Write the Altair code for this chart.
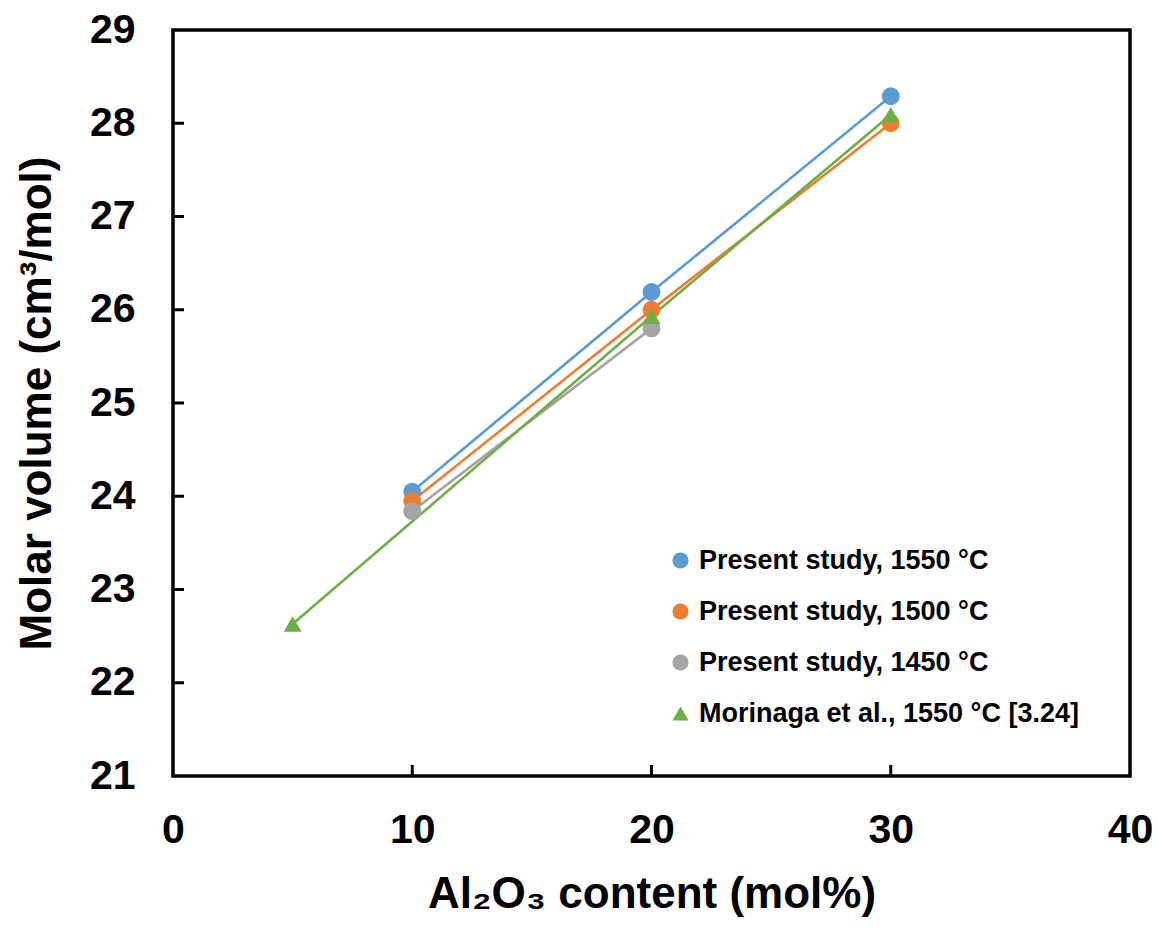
import altair as alt
import pandas as pd

series_names = [
    "Present study, 1550 °C",
    "Present study, 1500 °C",
    "Present study, 1450 °C",
    "Morinaga et al., 1550 °C [3.24]",
]
colors = ["#5B9BD5", "#ED7D31", "#A5A5A5", "#70AD47"]
shapes = ["circle", "circle", "circle", "triangle-up"]

x_1550 = [10, 20, 30]
y_1550 = [24.05, 26.19, 28.29]
x_1500 = [10, 20, 30]
y_1500 = [23.95, 26.00, 28.00]
x_1450 = [10, 20]
y_1450 = [23.84, 25.80]
x_mor = [5, 20, 30]
y_mor = [22.63, 25.93, 28.09]

x_ticks = [10, 20, 30]
y_ticks = [22, 23, 24, 25, 26, 27, 28]

rows = []
order = 0
for name, xs, ys in zip(series_names,
                        [x_1550, x_1500, x_1450, x_mor],
                        [y_1550, y_1500, y_1450, y_mor]):
    for xv, yv in zip(xs, ys):
        rows.append({"series": name, "x": xv, "y": yv, "o": order})
        order += 1
df = pd.DataFrame(rows)

W, H = 957, 746
FONT = "Liberation Sans"

xscale = alt.Scale(domain=[0, 40], nice=False, zero=False)
yscale = alt.Scale(domain=[21, 29], nice=False, zero=False)

xaxis = alt.Axis(values=[0, 10, 20, 30, 40], format="d", tickSize=0, domain=False,
                 grid=False, labelFlush=False, labelOverlap=False,
                 labelFontSize=41, labelFont=FONT, labelFontWeight="bold",
                 labelColor="black", labelPadding=34,
                 title="Al₂O₃ content (mol%)", titleFontSize=44, titleFont=FONT,
                 titleFontWeight="bold", titleColor="black", titlePadding=22)
yaxis = alt.Axis(values=[21, 22, 23, 24, 25, 26, 27, 28, 29], format="d", tickSize=0,
                 domain=False, grid=False, labelFlush=False, labelOverlap=False,
                 labelFontSize=41, labelFont=FONT, labelFontWeight="bold",
                 labelColor="black", labelPadding=38,
                 title="Molar volume (cm³/mol)", titleFontSize=44, titleFont=FONT,
                 titleFontWeight="bold", titleColor="black", titlePadding=30)

base = alt.Chart(df)

lines = base.mark_line(strokeWidth=2.6).encode(
    x=alt.X("x:Q", scale=xscale, axis=xaxis),
    y=alt.Y("y:Q", scale=yscale, axis=yaxis),
    color=alt.Color("series:N", scale=alt.Scale(domain=series_names, range=colors),
                    legend=None),
    detail="series:N",
    order="o:Q",
)

points = base.mark_point(filled=True, opacity=1, size=320).encode(
    x=alt.X("x:Q", scale=xscale),
    y=alt.Y("y:Q", scale=yscale),
    color=alt.Color("series:N", scale=alt.Scale(domain=series_names, range=colors),
                    legend=alt.Legend(title=None, orient="none", legendX=494, legendY=517,
                                      labelFontSize=27, labelFont=FONT,
                                      labelFontWeight="bold", labelColor="black",
                                      symbolSize=260, symbolStrokeWidth=0,
                                      labelOffset=5, rowPadding=23, padding=0,
                                      labelLimit=600)),
    shape=alt.Shape("series:N", scale=alt.Scale(domain=series_names, range=shapes),
                    legend=None),
)

ytick_df = pd.DataFrame({"v": y_ticks})
xtick_df = pd.DataFrame({"v": x_ticks})

yticks = alt.Chart(ytick_df).mark_rule(color="black", strokeWidth=3).encode(
    y=alt.Y("v:Q", scale=yscale), x=alt.value(0), x2=alt.value(11))
xticks = alt.Chart(xtick_df).mark_rule(color="black", strokeWidth=3).encode(
    x=alt.X("v:Q", scale=xscale), y=alt.value(H), y2=alt.value(H - 11))

chart = alt.layer(lines, points, yticks, xticks).resolve_scale(
    color="independent", shape="independent"
).properties(
    width=W, height=H,
    padding={"left": 173, "top": 30, "right": 28, "bottom": 164},
    autosize=alt.AutoSizeParams(type="none"),
    background="white",
).configure_view(stroke="black", strokeWidth=3.5)

chart.save("out.html", embed_options={"renderer": "svg", "actions": False})
